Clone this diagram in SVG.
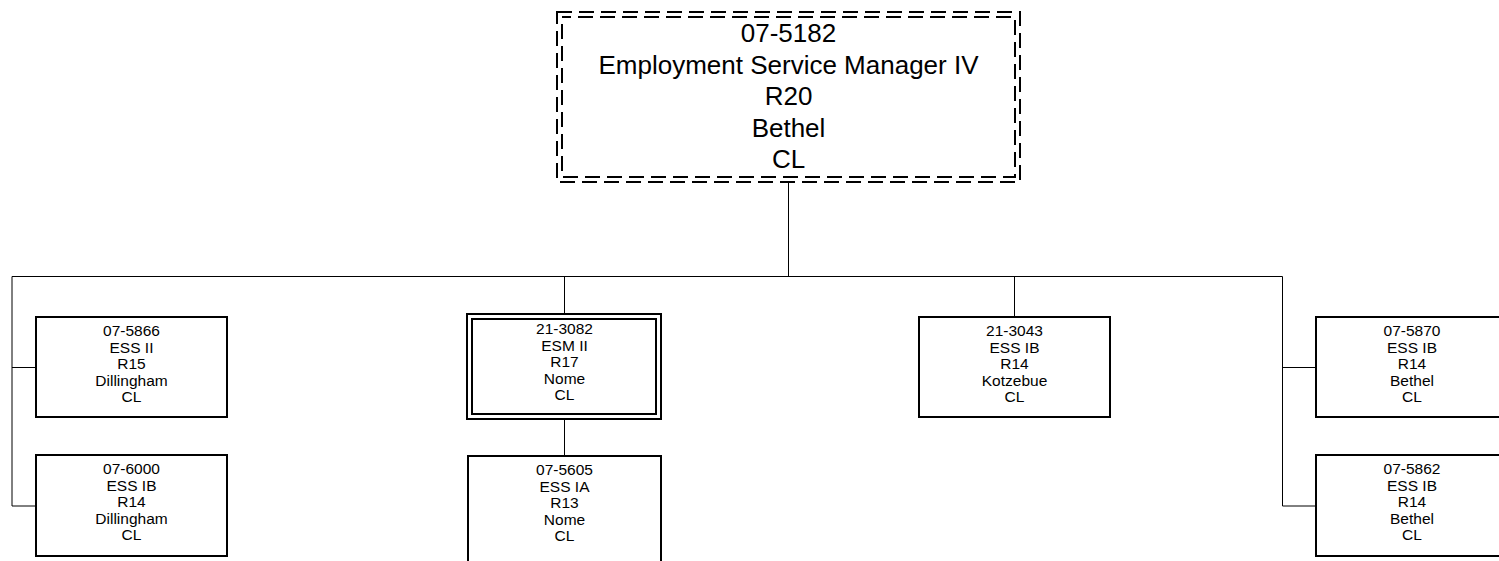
<svg xmlns="http://www.w3.org/2000/svg" width="1499" height="561" viewBox="0 0 1499 561">
<style>
  .box { fill: #ffffff; stroke: #000000; stroke-width: 2; }
  .dash { fill: none; stroke: #000000; stroke-width: 2; stroke-dasharray: 15 7; }
  .conn { fill: none; stroke: #000000; stroke-width: 1; }
  .t { font-family: "Liberation Sans", Arial, sans-serif; font-size: 15.5px; fill: #000000; text-anchor: middle; }
  .tb { font-family: "Liberation Sans", Arial, sans-serif; font-size: 26px; fill: #000000; text-anchor: middle; }
</style>
<rect width="1499" height="561" fill="#ffffff"/>
<g id="connectors">
  <path class="conn" d="M788.5,182 V276.5"/>
  <path class="conn" d="M12,276.5 H1282.5"/>
  <path class="conn" d="M12,276.5 V506 H36"/>
  <path class="conn" d="M12,367.5 H36"/>
  <path class="conn" d="M564.5,276.5 V314"/>
  <path class="conn" d="M564.5,419 V456"/>
  <path class="conn" d="M1014.5,276.5 V317"/>
  <path class="conn" d="M1282.5,276.5 V506 H1316"/>
  <path class="conn" d="M1282.5,367.5 H1316"/>
</g>
<g id="n-07-5182">
  <rect x="557" y="12" width="463" height="170" fill="#ffffff"/>
  <rect class="dash" x="557" y="12" width="463" height="170"/>
  <rect class="dash" x="562" y="17" width="453" height="160" stroke-dashoffset="6"/>
  <text class="tb" x="788.5" y="42">07-5182</text>
  <text class="tb" x="788.5" y="73.5">Employment Service Manager IV</text>
  <text class="tb" x="788.5" y="105">R20</text>
  <text class="tb" x="788.5" y="136.5">Bethel</text>
  <text class="tb" x="788.5" y="168">CL</text>
</g>
<g id="n-07-5866">
  <rect class="box" x="36" y="317" width="191" height="100"/>
  <text class="t" x="131.5" y="336">07-5866</text>
  <text class="t" x="131.5" y="352.5">ESS II</text>
  <text class="t" x="131.5" y="369">R15</text>
  <text class="t" x="131.5" y="385.5">Dillingham</text>
  <text class="t" x="131.5" y="402">CL</text>
</g>
<g id="n-07-6000">
  <rect class="box" x="36" y="455" width="191" height="101"/>
  <text class="t" x="131.5" y="474">07-6000</text>
  <text class="t" x="131.5" y="490.5">ESS IB</text>
  <text class="t" x="131.5" y="507">R14</text>
  <text class="t" x="131.5" y="523.5">Dillingham</text>
  <text class="t" x="131.5" y="540">CL</text>
</g>
<g id="n-21-3082">
  <rect class="box" x="467" y="314" width="194" height="105"/>
  <rect class="box" x="472" y="319" width="184" height="95"/>
  <text class="t" x="564.5" y="334">21-3082</text>
  <text class="t" x="564.5" y="350.5">ESM II</text>
  <text class="t" x="564.5" y="367">R17</text>
  <text class="t" x="564.5" y="383.5">Nome</text>
  <text class="t" x="564.5" y="400">CL</text>
</g>
<g id="n-07-5605">
  <rect class="box" x="468" y="456" width="193" height="110"/>
  <text class="t" x="564.5" y="475">07-5605</text>
  <text class="t" x="564.5" y="491.5">ESS IA</text>
  <text class="t" x="564.5" y="508">R13</text>
  <text class="t" x="564.5" y="524.5">Nome</text>
  <text class="t" x="564.5" y="541">CL</text>
</g>
<g id="n-21-3043">
  <rect class="box" x="919" y="317" width="191" height="100"/>
  <text class="t" x="1014.5" y="336">21-3043</text>
  <text class="t" x="1014.5" y="352.5">ESS IB</text>
  <text class="t" x="1014.5" y="369">R14</text>
  <text class="t" x="1014.5" y="385.5">Kotzebue</text>
  <text class="t" x="1014.5" y="402">CL</text>
</g>
<g id="n-07-5870">
  <rect class="box" x="1316" y="317" width="192" height="100"/>
  <text class="t" x="1412" y="336">07-5870</text>
  <text class="t" x="1412" y="352.5">ESS IB</text>
  <text class="t" x="1412" y="369">R14</text>
  <text class="t" x="1412" y="385.5">Bethel</text>
  <text class="t" x="1412" y="402">CL</text>
</g>
<g id="n-07-5862">
  <rect class="box" x="1316" y="455" width="192" height="101"/>
  <text class="t" x="1412" y="474">07-5862</text>
  <text class="t" x="1412" y="490.5">ESS IB</text>
  <text class="t" x="1412" y="507">R14</text>
  <text class="t" x="1412" y="523.5">Bethel</text>
  <text class="t" x="1412" y="540">CL</text>
</g>
</svg>
